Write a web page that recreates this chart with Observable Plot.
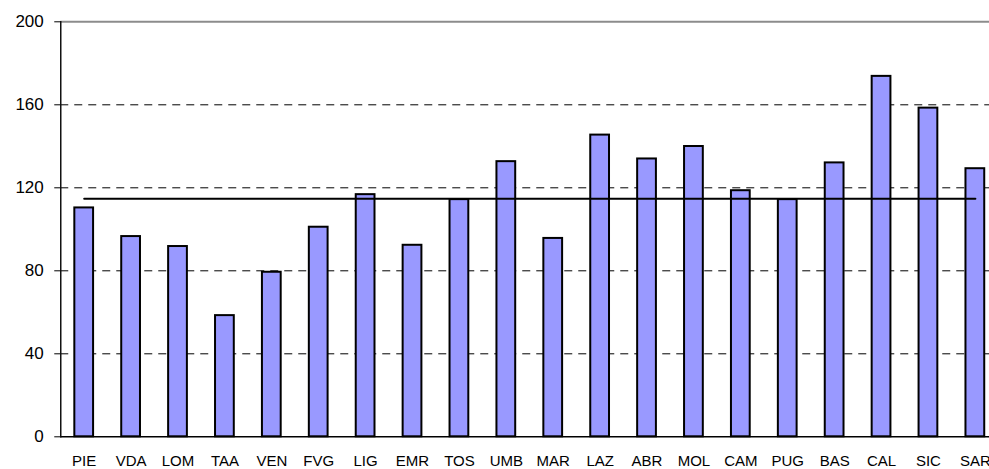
<!DOCTYPE html>
<html>
<head>
<meta charset="utf-8">
<script src="https://cdn.jsdelivr.net/npm/d3@7"></script>
<script src="https://cdn.jsdelivr.net/npm/@observablehq/plot@0.6"></script>
<style>
  html, body { margin: 0; padding: 0; background: #fff; overflow: hidden; }
  #chart svg { overflow: hidden; }
</style>
</head>
<body>
<div id="chart"></div>
<script>
const regions = ["PIE","VDA","LOM","TAA","VEN","FVG","LIG","EMR","TOS","UMB","MAR","LAZ","ABR","MOL","CAM","PUG","BAS","CAL","SIC","SAR"];
const values  = [110.3, 96.5, 91.7, 58.4, 79.3, 101.0, 116.7, 92.3, 114.3, 132.6, 95.6, 145.4, 133.9, 139.9, 118.6, 114.3, 132.0, 173.7, 158.4, 129.2];
const meanValue = 114.7;
const yTicks = [0, 40, 80, 120, 160, 200];
const gridTicks = [40, 80, 120, 160];

const data = regions.map((r, i) => ({region: r, value: values[i]}));
const meanLine = regions.map(r => ({region: r, value: meanValue}));

const chart = Plot.plot({
  width: 989,
  height: 469,
  marginLeft: 60.25,
  marginRight: -9.3,
  marginTop: 21.3,
  marginBottom: 32.7,
  style: {fontFamily: "Liberation Sans, Arial, sans-serif", color: "#000", background: "#fff"},
  x: {domain: regions, paddingInner: 0.6, paddingOuter: 0.3, align: 0.5, round: false},
  y: {domain: [0, 200]},
  marks: [
    Plot.gridY(gridTicks, {stroke: "#000", strokeOpacity: 1, strokeWidth: 1, strokeDasharray: "8,6"}),
    Plot.ruleY([200], {stroke: "#8c8c8c", strokeWidth: 2}),
    Plot.barY(data, {x: "region", y: "value", fill: "#9999ff", stroke: "#000", strokeWidth: 2}),
    Plot.lineY(meanLine, {x: "region", y: "value", stroke: "#000", strokeWidth: 2}),
    Plot.ruleY([0], {stroke: "#000", strokeWidth: 1.5}),
    Plot.frame({anchor: "left", stroke: "#111", strokeWidth: 1.5}),
    Plot.axisY({ticks: yTicks, tickSize: 6, tickPadding: 11, fontSize: 17, label: null, stroke: "#000"}),
    Plot.axisX({tickSize: 0, tickPadding: 19, fontSize: 15, label: null})
  ]
});
document.getElementById("chart").appendChild(chart);
</script>
</body>
</html>
